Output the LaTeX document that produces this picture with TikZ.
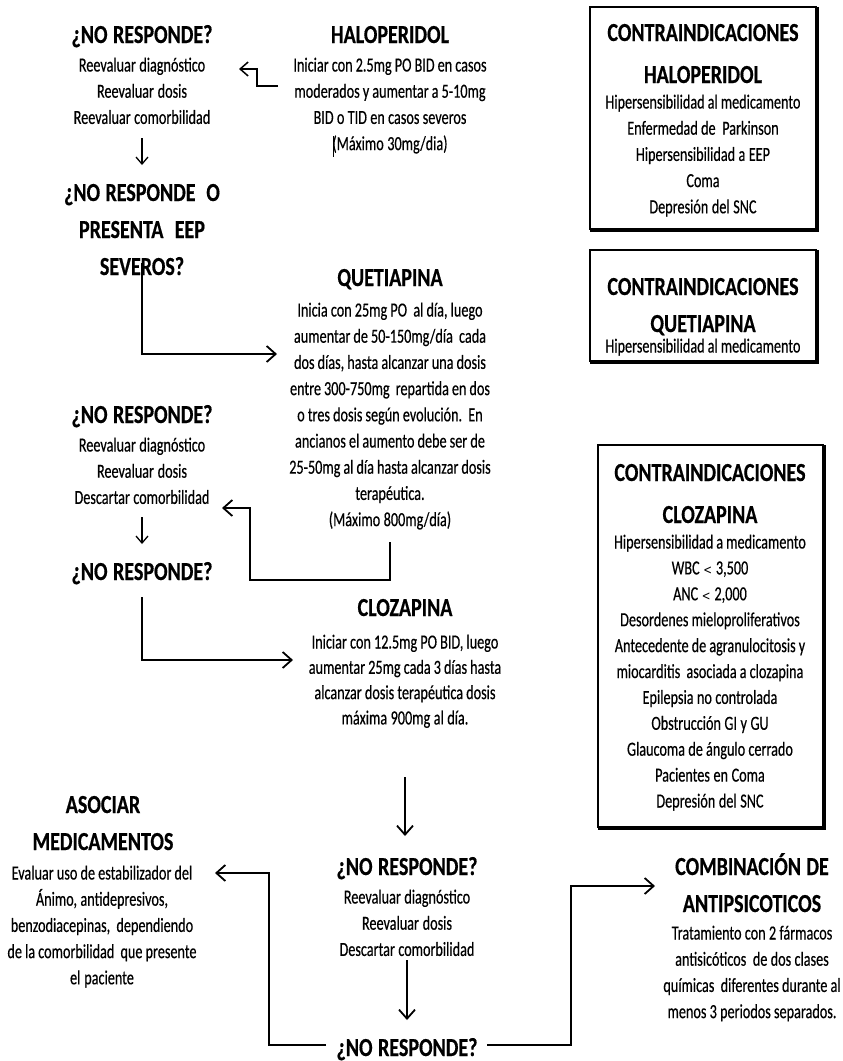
\documentclass[tikz,border=0pt]{standalone}
\usepackage{fontspec}
\setmainfont{Carlito}[FakeStretch=0.71, FakeBold=0.4, BoldFeatures={FakeStretch=0.77, FakeBold=0.5}]
\usetikzlibrary{arrows.meta}
\tikzset{
  ttl/.style={font=\bfseries\fontsize{26}{37}\selectfont, text width=300pt, align=center, anchor=base, inner sep=0pt,
    execute at begin node={\frenchspacing\spaceskip=4pt plus 1pt minus 0.5pt\relax}},
  txt/.style={font=\fontsize{20}{26.2}\selectfont, text width=300pt, align=center, anchor=base, inner sep=0pt,
    execute at begin node={\frenchspacing\spaceskip=2.4pt plus 0.5pt minus 0.3pt\relax}},
  conn/.style={line width=1.8pt, -{Straight Barb[length=9pt,width=16pt,line width=1.8pt]}},
  small/.style={line width=1.3pt, -{Straight Barb[length=7pt,width=12pt,line width=1.3pt]}},
  plain/.style={line width=1.8pt},
  cibox/.style={draw, line width=1.6pt, inner sep=0pt},
  shadowline/.style={line width=1.8pt},
}
\begin{document}
\begin{tikzpicture}[x=1pt,y=-1pt]
\useasboundingbox (0,0) rectangle (843,1061);
\fill[white] (0,0) rectangle (843,1061);

% left column
\node[ttl] (nr1) at (142,43) {¿NO RESPONDE?};
\node[txt] (nr1b) at (142,71.5) {Reevaluar diagnóstico\\Reevaluar dosis\\Reevaluar comorbilidad};
\node[ttl] (nr2) at (142,201) {¿NO RESPONDE \ O\\PRESENTA \ EEP\\SEVEROS?};
\node[ttl] (nr3) at (142,423) {¿NO RESPONDE?};
\node[txt] (nr3b) at (142,451.5) {Reevaluar diagnóstico\\Reevaluar dosis\\Descartar comorbilidad};
\node[ttl] (nr4) at (142,580) {¿NO RESPONDE?};

% middle column
\node[ttl] (halo) at (390,43) {HALOPERIDOL};
\node[txt] (halob) at (390,71.5) {Iniciar con 2.5mg PO BID en casos\\moderados y aumentar a 5-10mg\\BID o TID en casos severos\\(Máximo 30mg/dia)};
\node[ttl] (quet) at (390,286) {QUETIAPINA};
\node[txt] (quetb) at (390,316.5) {Inicia con 25mg PO \ al día, luego\\aumentar de 50-150mg/día \ cada\\dos días, hasta alcanzar una dosis\\entre 300-750mg \ repartida en dos\\o tres dosis según evolución. \ En\\ancianos el aumento debe ser de\\25-50mg al día hasta alcanzar dosis\\terapéutica.\\(Máximo 800mg/día)};
\node[ttl] (cloz) at (405,616) {CLOZAPINA};
\node[txt, font=\fontsize{20}{25.3}\selectfont] (clozb) at (405,648.5) {Iniciar con 12.5mg PO BID, luego\\aumentar 25mg cada 3 días hasta\\alcanzar dosis terapéutica dosis\\máxima 900mg al día.};
\node[ttl] (nr5) at (407,875) {¿NO RESPONDE?};
\node[txt] (nr5b) at (407,903.5) {Reevaluar diagnóstico\\Reevaluar dosis\\Descartar comorbilidad};
\node[ttl] (nr6) at (407,1056) {¿NO RESPONDE?};

% bottom left / right
\node[ttl] (asoc) at (103,813) {ASOCIAR\\MEDICAMENTOS};
\node[txt] (asocb) at (102,879.5) {Evaluar uso de estabilizador del\\Ánimo, antidepresivos,\\benzodiacepinas, \ dependiendo\\de la comorbilidad \ que presente\\el paciente};
\node[ttl] (comb) at (752,875) {COMBINACIÓN DE\\ANTIPSICOTICOS};
\node[txt] (combb) at (752,939.5) {Tratamiento con 2 fármacos\\antisicóticos \ de dos clases\\químicas \ diferentes durante al\\menos 3 periodos separados.};

% contraindication boxes
\node[cibox, minimum width=226pt, minimum height=222pt] (ci1) at (703,118) {};
\draw[shadowline] ([xshift=1pt,yshift=-1pt]ci1.north east) -- ([xshift=1pt,yshift=-1pt]ci1.south east) -- ([xshift=1pt,yshift=-1pt]ci1.south west);
\node[ttl, font=\bfseries\fontsize{26}{42}\selectfont] (ci1t) at (703,41) {CONTRAINDICACIONES\\HALOPERIDOL};
\node[txt] (ci1b) at (703,108.5) {Hipersensibilidad al medicamento\\Enfermedad de \ Parkinson\\Hipersensibilidad a EEP\\Coma\\Depresión del SNC};

\node[cibox, minimum width=226pt, minimum height=111pt] (ci2) at (703,305.5) {};
\draw[shadowline] ([xshift=1pt,yshift=-1pt]ci2.north east) -- ([xshift=1pt,yshift=-1pt]ci2.south east) -- ([xshift=1pt,yshift=-1pt]ci2.south west);
\node[ttl] (ci2t) at (703,295) {CONTRAINDICACIONES\\QUETIAPINA};
\node[txt] (ci2b) at (703,352.5) {Hipersensibilidad al medicamento};

\node[cibox, minimum width=225pt, minimum height=382pt] (ci3) at (710.5,636) {};
\draw[shadowline] ([xshift=1pt,yshift=-1pt]ci3.north east) -- ([xshift=1pt,yshift=-1pt]ci3.south east) -- ([xshift=1pt,yshift=-1pt]ci3.south west);
\node[ttl, font=\bfseries\fontsize{26}{42}\selectfont] (ci3t) at (710,481) {CONTRAINDICACIONES\\CLOZAPINA};
\node[txt, font=\fontsize{20}{25.9}\selectfont] (ci3b) at (710,548.5) {Hipersensibilidad a medicamento\\WBC {\fontspec{DejaVu Sans}[FakeStretch=0.8]\fontsize{13}{20}\selectfont <} 3,500\\ANC {\fontspec{DejaVu Sans}[FakeStretch=0.8]\fontsize{13}{20}\selectfont <} 2,000\\Desordenes mieloproliferativos\\Antecedente de agranulocitosis y\\miocarditis \ asociada a clozapina\\Epilepsia no controlada\\Obstrucción GI y GU\\Glaucoma de ángulo cerrado\\Pacientes en Coma\\Depresión del SNC};

% cursor artifact
\draw[line width=0.8pt] (333,136) -- (333,157);

% connectors
\coordinate (h1) at (278,86);
\coordinate (h2) at (239,69);
\draw[plain, -{Straight Barb[length=8pt,width=14pt,line width=1.5pt]}, line width=1.5pt] (h1) -- (257,86) -- (257,69) -- (h2);

\coordinate (a1s) at (142,138);
\coordinate (a1e) at (142,165);
\draw[small] (a1s) -- (a1e);

\coordinate (q0) at (142,263);
\coordinate (q1) at (277,354);
\draw[conn] (q0) |- (q1);

\coordinate (r0) at (390,542);
\coordinate (r1) at (222,508);
\draw[conn] (r0) -- (390,580) -- (250,580) -- (250,508) -- (r1);

\coordinate (a3s) at (142,517);
\coordinate (a3e) at (142,544);
\draw[small] (a3s) -- (a3e);

\coordinate (c0) at (142,597);
\coordinate (c1) at (293,660);
\draw[conn] (c0) |- (c1);

\coordinate (d0) at (405,777);
\coordinate (d1) at (405,836);
\draw[conn] (d0) -- (d1);

\coordinate (e0) at (407,960);
\coordinate (e1) at (407,1020);
\draw[conn] (e0) -- (e1);

\coordinate (l0) at (326,1045);
\coordinate (l1) at (215,873);
\draw[conn] (l0) -- (269,1045) -- (269,873) -- (l1);

\coordinate (m0) at (487,1045);
\coordinate (m1) at (655,886);
\draw[conn] (m0) -- (571,1045) -- (571,886) -- (m1);
\end{tikzpicture}
\end{document}
